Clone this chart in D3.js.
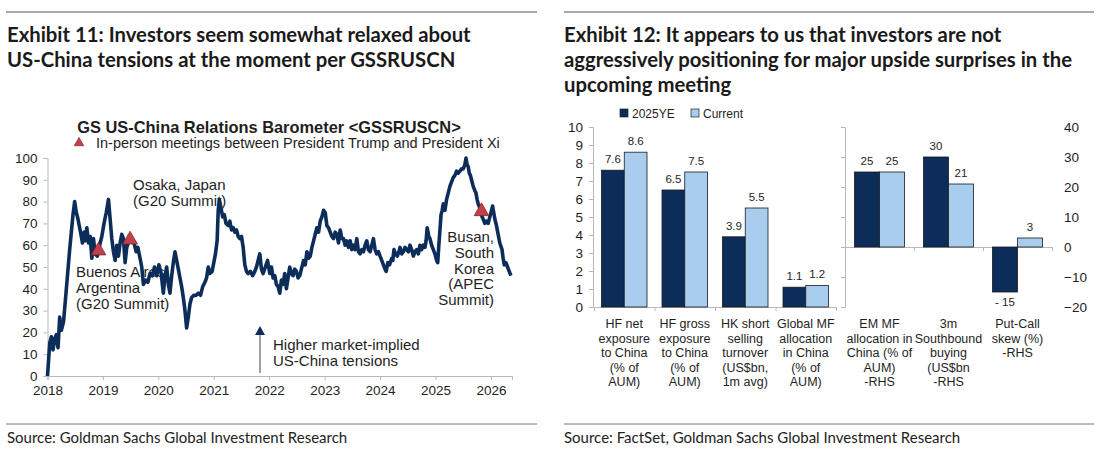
<!DOCTYPE html>
<html>
<head>
<meta charset="utf-8">
<script src="https://cdn.jsdelivr.net/npm/d3@7"></script>
<style>
  body { margin: 0; background: #fff; }
  svg text { font-family: "Liberation Sans", Arial, sans-serif; fill: #1e1e1e; }
  svg text.hd { font-family: Lato, "Open Sans", sans-serif; font-weight: bold; font-size: 20.3px; fill: #1a1a1a; }
  svg text.src { font-family: Lato, "Open Sans", sans-serif; font-size: 15px; fill: #222; }
  .axis path, .axis line { stroke: #b8b8b8; }
</style>
</head>
<body>
<svg id="chart" width="1100" height="450"></svg>
<script>
// ---- Exhibit 11 data: GS US-China Relations Barometer (decimal year, value)
var years = [2018.00,2018.04,2018.07,2018.10,2018.13,2018.16,2018.19,2018.22,2018.25,2018.29,2018.34,2018.40,2018.46,2018.49,2018.52,2018.55,2018.58,2018.61,2018.63,2018.66,2018.68,2018.71,2018.74,2018.77,2018.80,2018.83,2018.86,2018.90,2018.95,2018.98,
  2019.02,2019.06,2019.10,2019.13,2019.16,2019.19,2019.22,2019.25,2019.28,2019.31,2019.34,2019.37,2019.40,2019.43,2019.47,2019.52,2019.56,2019.60,2019.63,2019.67,2019.70,2019.73,2019.77,2019.81,2019.85,2019.89,2019.93,2019.97,
  2020.01,2020.05,2020.09,2020.12,2020.15,2020.18,2020.21,2020.24,2020.27,2020.30,2020.33,2020.36,2020.39,2020.42,2020.45,2020.48,2020.51,2020.54,2020.57,2020.60,2020.64,2020.68,2020.72,2020.76,2020.80,2020.84,2020.87,2020.90,2020.93,2020.97,
  2021.00,2021.03,2021.06,2021.08,2021.10,2021.13,2021.16,2021.19,2021.22,2021.26,2021.29,2021.32,2021.35,2021.38,2021.41,2021.44,2021.47,2021.50,2021.53,2021.56,2021.59,2021.62,2021.66,2021.70,2021.74,2021.77,2021.81,2021.83,2021.86,2021.89,2021.93,2021.97,
  2022.01,2022.04,2022.07,2022.10,2022.13,2022.16,2022.19,2022.22,2022.25,2022.28,2022.31,2022.34,2022.37,2022.40,2022.43,2022.46,2022.49,2022.52,2022.55,2022.58,2022.62,2022.65,2022.68,2022.71,2022.74,2022.77,2022.80,2022.83,2022.86,2022.89,2022.92,2022.95,2022.98,
  2023.01,2023.04,2023.07,2023.10,2023.13,2023.16,2023.19,2023.22,2023.25,2023.28,2023.31,2023.34,2023.37,2023.40,2023.43,2023.46,2023.49,2023.52,2023.55,2023.58,2023.61,2023.64,2023.67,2023.70,2023.73,2023.76,2023.79,2023.82,2023.85,2023.88,2023.91,2023.94,2023.97,
  2024.00,2024.03,2024.06,2024.09,2024.11,2024.14,2024.17,2024.21,2024.23,2024.25,2024.28,2024.31,2024.34,2024.36,2024.39,2024.42,2024.45,2024.48,2024.51,2024.54,2024.57,2024.60,2024.63,2024.66,2024.69,2024.72,2024.75,2024.78,2024.81,2024.83,2024.85,2024.88,2024.90,2024.93,2024.96,2024.99,
  2025.02,2025.04,2025.06,2025.08,2025.10,2025.12,2025.14,2025.17,2025.20,2025.23,2025.26,2025.29,2025.32,2025.35,2025.38,2025.41,2025.44,2025.47,2025.50,2025.53,2025.55,2025.57,2025.59,2025.61,2025.63,2025.66,2025.68,2025.71,2025.73,2025.75,2025.77,2025.80,2025.82,2025.84,2025.86,2025.89,2025.92,2025.95,2025.98,
  2026.01,2026.03,2026.05,2026.07,2026.10,2026.13,2026.16,2026.20,2026.22,2026.24,2026.27,2026.30,2026.33,2026.36];
var barometer = [0,15,18,12,17,19,13,27,21,25,40,58,74,80,75,72,68,64,61,66,62,68,61,64,54,63,56,55,61,64,
  70,75,81,72,63,57,53,60,55,61,65,63,52,59,62,63,61,57,59,54,50,42,44,43,47,46,50,46,
  51,47,38,46,50,42,38,46,52,57,53,49,45,41,36,30,22,27,33,36,37,37,38,37,41,43,45,50,47,48,
  52,56,62,76,81,77,73,74,70,69,71,67,68,66,67,64,63,64,59,51,48,47,48,46,48,50,54,56,49,47,50,53,
  47,50,45,46,42,41,38,44,42,47,40,45,50,47,46,49,48,45,46,49,53,51,57,54,55,59,62,65,68,66,71,73,76,
  75,69,68,66,64,63,66,65,61,67,63,63,60,62,59,62,58,60,58,63,57,56,58,57,60,62,58,57,60,63,58,56,57,
  55,53,51,49,48,52,51,54,53,58,56,55,57,59,56,57,59,58,57,60,58,55,57,58,56,60,58,60,59,62,68,64,63,60,58,56,
  53,52,60,67,74,76,79,76,81,84,87,89,91,92,94,93,94,95,95,97,100,97,96,93,92,89,87,85,84,81,79,77,76,73,72,70,71,70,73,
  76,78,75,72,69,65,61,58,54,51,52,50,48,46];
var yearTicks = [2018, 2019, 2020, 2021, 2022, 2023, 2024, 2025, 2026];
var baroTicks = [0, 10, 20, 30, 40, 50, 60, 70, 80, 90, 100];
var meetingDates = [2018.92, 2019.49, 2025.83];
var meetingValues = [57.5, 62.5, 75.5];

// ---- Exhibit 12 data
var barSeries = ["2025YE", "Current"];
var lhsLabels = [
  ["HF net", "exposure", "to China", "(% of", "AUM)"],
  ["HF gross", "exposure", "to China", "(% of", "AUM)"],
  ["HK short", "selling", "turnover", "(US$bn,", "1m avg)"],
  ["Global MF", "allocation", "in China", "(% of", "AUM)"]
];
var rhsLabels = [
  ["EM MF", "allocation in", "China (% of", "AUM)", "-RHS"],
  ["3m", "Southbound", "buying", "(US$bn", "-RHS"],
  ["Put-Call", "skew (%)", "-RHS"]
];
var lhs2025 = [7.6, 6.5, 3.9, 1.1];
var lhsCurrent = [8.6, 7.5, 5.5, 1.2];
var rhs2025 = [25, 30, -15];
var rhsCurrent = [25, 21, 3];
var lhsTicks = [0, 1, 2, 3, 4, 5, 6, 7, 8, 9, 10];
var rhsTicks = [-20, -10, 0, 10, 20, 30, 40];

var navy = "#0c2d5a", lightBlue = "#a8cdee", red = "#c2404a";

var svg = d3.select("#chart");
svg.append("rect").attr("width", 1100).attr("height", 450).attr("fill", "#fff");

// header / footer rules and text
[[6, 537], [564, 1094]].forEach(function(r) {
  svg.append("line").attr("x1", r[0]).attr("x2", r[1]).attr("y1", 12).attr("y2", 12).attr("stroke", "#555");
  svg.append("line").attr("x1", r[0]).attr("x2", r[1]).attr("y1", 424).attr("y2", 424).attr("stroke", "#777");
});
function lines(x, y0, dy, arr, cls) {
  arr.forEach(function(t, i) {
    svg.append("text").attr("class", cls).attr("x", x).attr("y", y0 + i * dy).text(t);
  });
}
lines(7, 42, 25, ["Exhibit 11: Investors seem somewhat relaxed about", "US-China tensions at the moment per GSSRUSCN"], "hd");
lines(564, 42, 25, ["Exhibit 12: It appears to us that investors are not", "aggressively positioning for major upside surprises in the", "upcoming meeting"], "hd");
lines(7, 443, 0, ["Source: Goldman Sachs Global Investment Research"], "src");
lines(564, 443, 0, ["Source: FactSet, Goldman Sachs Global Investment Research"], "src");

// ================= Exhibit 11 =================
var x = d3.scaleLinear().domain([2018, 2026.38]).range([47.5, 512]);
var y = d3.scaleLinear().domain([0, 100]).range([376, 158]);

svg.append("text").attr("x", 269).attr("y", 133).attr("text-anchor", "middle")
  .style("font-weight", "bold").style("font-size", "16.4px")
  .text("GS US-China Relations Barometer <GSSRUSCN>");
svg.append("path").attr("d", d3.symbol(d3.symbolTriangle).size(40)())
  .attr("transform", "translate(79,143)").attr("fill", red).attr("stroke", "#7a1c22").attr("stroke-width", 0.6);
svg.append("text").attr("x", 96).attr("y", 148).style("font-size", "14.5px")
  .text("In-person meetings between President Trump and President Xi");

var gy = svg.append("g").attr("class", "axis").attr("transform", "translate(47.5,0)")
  .call(d3.axisLeft(y).tickValues(baroTicks).tickSize(4).tickPadding(6));
var gx = svg.append("g").attr("class", "axis").attr("transform", "translate(0,376)")
  .call(d3.axisBottom(x).tickValues(yearTicks).tickFormat(d3.format("d")).tickSize(4).tickPadding(5));
gy.selectAll("text").style("font-size", "13.5px").attr("fill", "#1e1e1e");
gx.selectAll("text").style("font-size", "13.5px").attr("fill", "#1e1e1e");

// annotations (drawn under the line)
function annot(xx, y0, arr, anchor) {
  arr.forEach(function(t, i) {
    svg.append("text").attr("x", xx).attr("y", y0 + i * 15.8).attr("text-anchor", anchor || "start")
      .style("font-size", "15px").text(t);
  });
}
annot(133, 190, ["Osaka, Japan", "(G20 Summit)"]);
annot(76, 277, ["Buenos Aires,", "Argentina", "(G20 Summit)"]);
annot(494, 242, ["Busan,", "South", "Korea", "(APEC", "Summit)"], "end");
annot(273, 350, ["Higher market-implied", "US-China tensions"]);

// arrow
svg.append("line").attr("x1", 260).attr("x2", 260).attr("y1", 373).attr("y2", 334)
  .attr("stroke", "#8a8a8a").attr("stroke-width", 1.6);
svg.append("path").attr("d", "M255,335 L260,326 L265,335 Z").attr("fill", navy);

var line = d3.line()
  .x(function(d, i) { return x(years[i]); })
  .y(function(d) { return y(d); })
  .curve(d3.curveLinear);
svg.append("path").datum(barometer).attr("d", line)
  .attr("fill", "none").attr("stroke", navy).attr("stroke-width", 3.6)
  .attr("stroke-linejoin", "round");

svg.selectAll(".meet").data(meetingDates).enter().append("path").attr("class", "meet")
  .attr("d", d3.symbol(d3.symbolTriangle).size(95)())
  .attr("transform", function(d, i) { return "translate(" + x(d) + "," + y(meetingValues[i]) + ")"; })
  .attr("fill", red).attr("stroke", "#7a1c22").attr("stroke-width", 0.7);

// ================= Exhibit 12 =================
var yL = d3.scaleLinear().domain([0, 10]).range([307, 127]);
var yR = d3.scaleLinear().domain([-20, 40]).range([307, 127]);
var xL = d3.scaleBand().domain(d3.range(lhs2025.length)).range([594, 836]);
var xR = d3.scaleBand().domain(d3.range(rhs2025.length)).range([845, 1052]);
var subL = d3.scaleBand().domain(barSeries).range([7.5, xL.bandwidth() - 7.5]);
var subR = d3.scaleBand().domain(barSeries).range([9.5, xR.bandwidth() - 9.5]);

// legend
barSeries.forEach(function(s, i) {
  var lx = [620, 691][i];
  svg.append("rect").attr("x", lx).attr("y", 109).attr("width", 8).attr("height", 8)
    .attr("fill", i ? lightBlue : navy).attr("stroke", "#222").attr("stroke-width", 0.7);
  svg.append("text").attr("x", lx + 12).attr("y", 118).style("font-size", "12px").text(s);
});

// axes
var gL = svg.append("g").attr("class", "axis").attr("transform", "translate(593,0)")
  .call(d3.axisLeft(yL).tickValues(lhsTicks).tickSize(4).tickPadding(6));
gL.selectAll("text").style("font-size", "13.5px").attr("fill", "#1e1e1e");
var gM = svg.append("g").attr("class", "axis").attr("transform", "translate(845,0)")
  .call(d3.axisLeft(yR).tickValues(rhsTicks).tickSize(4).tickFormat(""));
var gR = svg.append("g").attr("class", "axis").attr("transform", "translate(1052,0)")
  .call(d3.axisRight(yR).tickValues(rhsTicks).tickSize(0).tickPadding(12));
gR.select(".domain").remove();
gR.selectAll("text").style("font-size", "13.5px").attr("fill", "#1e1e1e");

// baselines with tick marks between categories
svg.append("g").attr("class", "axis").attr("transform", "translate(0," + yL(0) + ")")
  .call(d3.axisBottom(d3.scaleLinear().domain([0, 4]).range([594, 836])).ticks(4).tickSize(4).tickFormat(""));
svg.append("g").attr("class", "axis").attr("transform", "translate(0," + yR(0) + ")")
  .call(d3.axisBottom(d3.scaleLinear().domain([0, 3]).range([845, 1052])).ticks(3).tickSize(4).tickFormat(""));

function drawBars(xs, sub, ys, a, b, cls) {
  var vals = [a, b];
  barSeries.forEach(function(s, si) {
    svg.selectAll("." + cls + si).data(vals[si]).enter().append("rect").attr("class", cls + si)
      .attr("x", function(d, i) { return xs(i) + sub(s); })
      .attr("width", sub.bandwidth())
      .attr("y", function(d) { return ys(Math.max(0, d)); })
      .attr("height", function(d) { return Math.abs(ys(d) - ys(0)); })
      .attr("fill", si ? lightBlue : navy).attr("stroke", "#1a1a1a").attr("stroke-width", 0.8);
    svg.selectAll(".lab" + cls + si).data(vals[si]).enter().append("text").attr("class", "lab" + cls + si)
      .attr("x", function(d, i) { return xs(i) + sub(s) + sub.bandwidth() / 2; })
      .attr("y", function(d) { return d >= 0 ? ys(d) - 7 : ys(d) + 14; })
      .attr("text-anchor", "middle").style("font-size", "11.5px")
      .text(function(d) { return d < 0 ? "- " + Math.abs(d) : d; });
  });
}
drawBars(xL, subL, yL, lhs2025, lhsCurrent, "bl");
drawBars(xR, subR, yR, rhs2025, rhsCurrent, "br");

function catLabels(xs, labels) {
  labels.forEach(function(arr, i) {
    var t = svg.append("text").attr("text-anchor", "middle").style("font-size", "12.5px");
    arr.forEach(function(s, j) {
      t.append("tspan").attr("x", xs(i) + xs.bandwidth() / 2).attr("y", 328 + j * 14.5).text(s);
    });
  });
}
catLabels(xL, lhsLabels);
catLabels(xR, rhsLabels);
</script>
</body>
</html>
